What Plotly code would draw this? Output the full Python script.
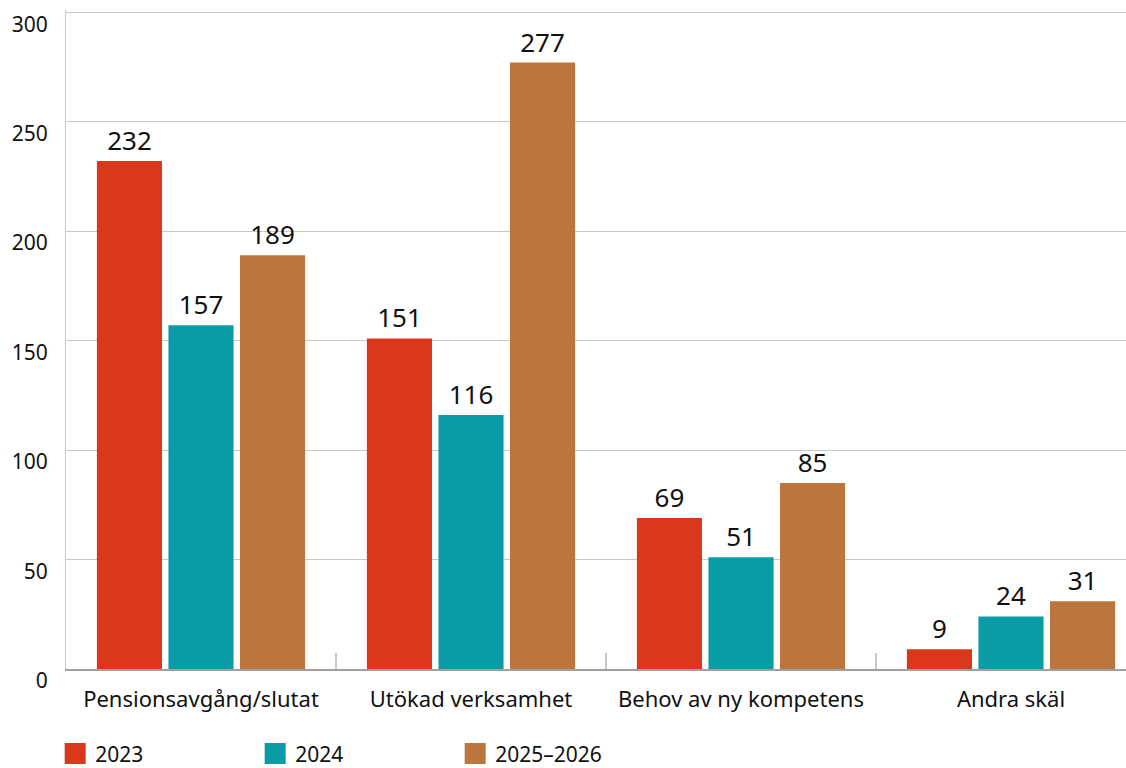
import plotly.graph_objects as go

categories = ["Pensionsavgång/slutat", "Utökad verksamhet", "Behov av ny kompetens", "Andra skäl"]
series_names = ["2023", "2024", "2025–2026"]
values_2023 = [232, 151, 69, 9]
values_2024 = [157, 116, 51, 24]
values_2025_2026 = [189, 277, 85, 31]
colors = ["#d9381a", "#0a9ca6", "#bb753d"]
y_ticks = [0, 50, 100, 150, 200, 250, 300]

FONT = "Noto Sans"

fig = go.Figure()
for name, vals, col in zip(series_names, [values_2023, values_2024, values_2025_2026], colors):
    fig.add_trace(go.Bar(
        x=categories, y=vals, name=name, marker_color=col, marker_line_width=0,
        text=[str(v) for v in vals], textposition="outside",
        textfont=dict(size=26, color="#111111", family=FONT),
        cliponaxis=False, showlegend=False,
    ))
# legend-only entries with larger square swatches
for name, col in zip(series_names, colors):
    fig.add_trace(go.Scatter(
        x=[None], y=[None], mode="markers", name=name,
        marker=dict(symbol="square", size=16, color=col, line=dict(color=col, width=5)),
        showlegend=True, hoverinfo="skip",
    ))

fig.update_layout(
    width=1126, height=768,
    margin=dict(l=66, r=0, t=10, b=99, autoexpand=False),
    paper_bgcolor="white", plot_bgcolor="white",
    font=dict(family=FONT, size=20, color="#111111"),
    barmode="group", bargap=0.205, bargroupgap=0.09,
    showlegend=True,
    legend=dict(
        orientation="h", xref="container", yref="container",
        x=0.049, xanchor="left", y=0.045, yanchor="top",
        font=dict(size=21, family=FONT, color="#111111"),
        entrywidth=155, entrywidthmode="pixels",
        itemwidth=30, tracegroupgap=0,
    ),
)
fig.update_xaxes(
    type="category", range=[-0.5, 3.5 - 20 / 270], automargin=False,
    tickson="boundaries", ticks="inside", ticklen=16, tickcolor="#c8c8c8", tickwidth=1.5,
    showline=True, linecolor="#a0a0a0", linewidth=1.5,
    showgrid=False, tickfont=dict(size=22, family=FONT, color="#111111"),
    ticklabelstandoff=10,
)
fig.update_yaxes(
    range=[0, 301], tickvals=y_ticks, automargin=False,
    showgrid=True, gridcolor="#c8c8c8", gridwidth=1,
    showline=True, linecolor="#c8c8c8", linewidth=1,
    zeroline=False, ticks="",
    tickfont=dict(size=21, family=FONT, color="#111111"),
    ticklabelshift=12, ticklabelstandoff=13, ticklabeloverflow="allow",
)

fig.write_html(
    "out.html",
    config={"displayModeBar": False},
    post_script="document.body.style.margin='0';document.body.style.padding='0';",
)
